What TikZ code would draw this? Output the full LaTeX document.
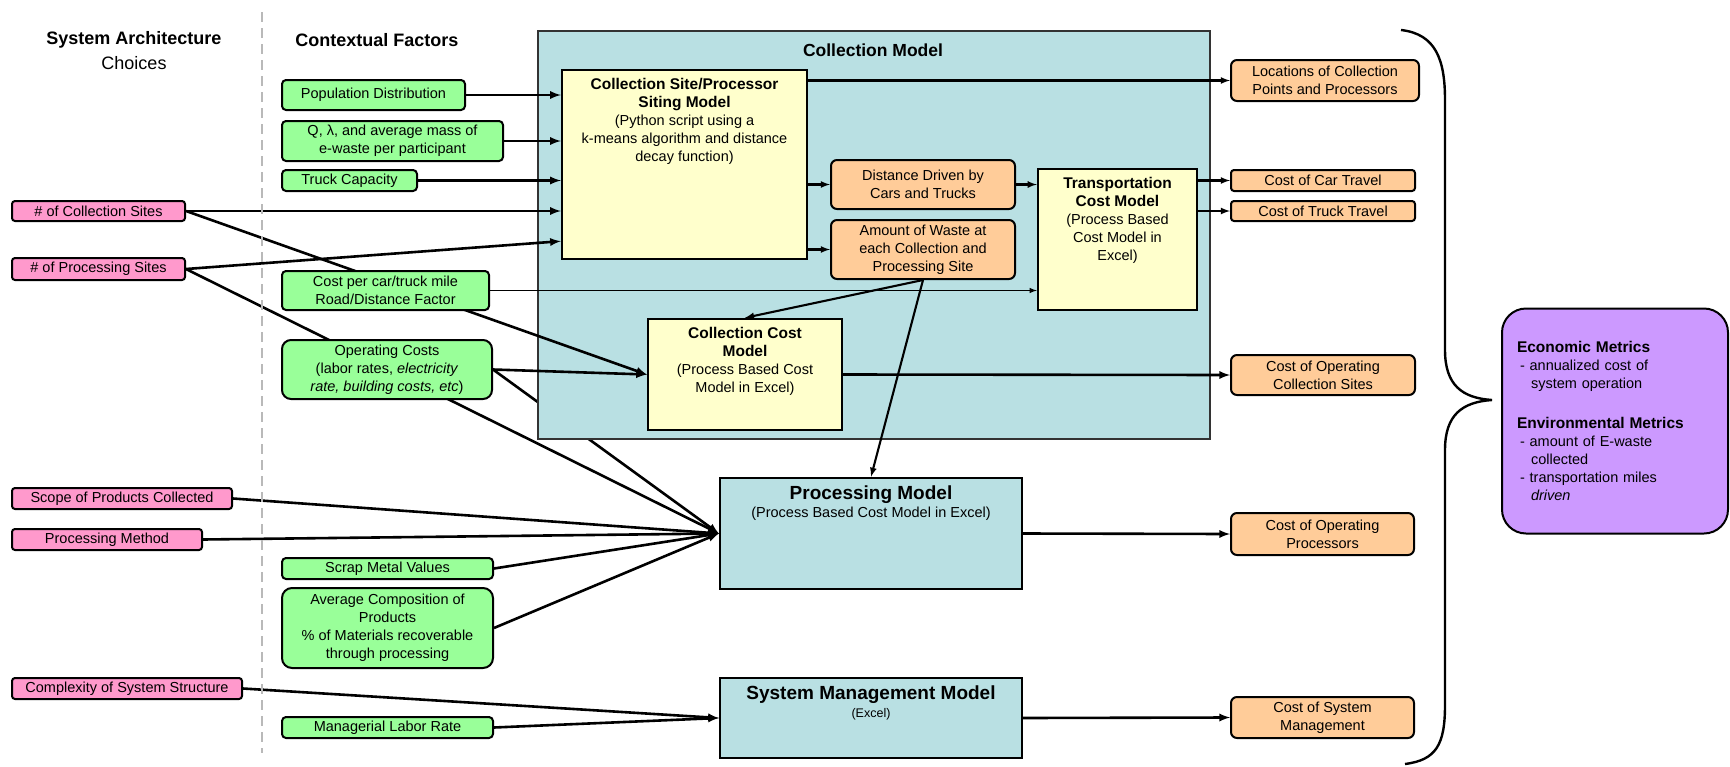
\documentclass[tikz,border=0pt]{standalone}
\usepackage{fontspec}
\setmainfont{Liberation Sans}
\usetikzlibrary{arrows}
\pgfdeclarelayer{hidden}
\pgfdeclarelayer{boxbg}
\pgfdeclarelayer{lines}
\pgfsetlayers{hidden,boxbg,lines,main}
\definecolor{pinkc}{HTML}{FF99CC}
\definecolor{greenc}{HTML}{99FF99}
\definecolor{orangec}{HTML}{FFCC99}
\definecolor{yellowc}{HTML}{FFFFCC}
\definecolor{tealc}{HTML}{B9E0E3}
\definecolor{purplec}{HTML}{CC99FF}
\newcommand{\hdr}[1]{{\fontsize{15.5}{18.5}\selectfont\bfseries #1}}
\newcommand{\bigt}[1]{{\fontsize{19}{22}\selectfont\bfseries #1}}

\begin{document}
\begin{tikzpicture}[x=1pt,y=-1pt,>=latex]
\tikzstyle{txt}=[font=\fontsize{14.5}{18}\selectfont, align=center]
\tikzstyle{basebox}=[txt, rectangle, draw=black, line width=2pt, inner sep=0pt]
\tikzstyle{pinkb}=[basebox, fill=pinkc, rounded corners=3pt]
\tikzstyle{greenb}=[basebox, fill=greenc, rounded corners=4pt]
\tikzstyle{orangeb}=[basebox, fill=orangec, rounded corners=6pt]
\tikzstyle{yelb}=[basebox, fill=yellowc, line width=2.4pt]
\tikzstyle{modb}=[basebox, fill=tealc, line width=2.4pt]
\tikzstyle{ttl}=[txt, anchor=north, inner sep=0pt, yshift=-9pt]
\tikzstyle{head}=[font=\fontsize{18}{22}\selectfont\bfseries]
\tikzstyle{arr}=[->, line width=2.6pt]
\tikzstyle{midarr}=[->, line width=2.1pt]
\tikzstyle{thinarr}=[->, line width=1.5pt]
\useasboundingbox (0,0) rectangle (1730,766);

% column headings
\node (hdarch) [head] at (134,40) {System Architecture};
\node (hdchoice) [head, font=\fontsize{18}{22}\selectfont] at (134,63) {Choices};
\node (hdctx) [head] at (377,40) {Contextual Factors};
\draw[gray!55, line width=2pt, dash pattern=on 10pt off 6pt] (262,12) -- (262,753);

% collection model
\begin{pgfonlayer}{boxbg}
\node (colmod) [modb, draw=black!80, line width=2.2pt, minimum width=672pt, minimum height=408pt] at (874,235) {};
\end{pgfonlayer}
\node (colmodt) [txt, font=\fontsize{17.5}{20}\selectfont\bfseries] at (873,50) {Collection Model};

% architecture choices
\node (ncoll) [pinkb, minimum width=173pt, minimum height=20pt] at (98.5,211) {\# of Collection Sites};
\node (nproc) [pinkb, minimum width=173pt, minimum height=22pt] at (98.5,269) {\# of Processing Sites};
\node (scope) [pinkb, minimum width=220pt, minimum height=21pt] at (122,498.5) {Scope of Products Collected};
\node (pmeth) [pinkb, minimum width=190pt, minimum height=21pt] at (107,539.5) {Processing Method};
\node (cplx) [pinkb, minimum width=230pt, minimum height=21pt] at (127,688.5) {Complexity of System Structure};

% contextual factors
\node (popdist) [greenb, minimum width=183pt, minimum height=30pt] at (373.5,95) {Population Distribution};
\node (qlam) [greenb, minimum width=221pt, minimum height=40pt] at (392.5,141) {Q, λ, and average mass of\\e-waste per participant};
\node (truck) [greenb, minimum width=135pt, minimum height=21pt] at (349.5,180.5) {Truck Capacity};
\node (costmile) [greenb, minimum width=207pt, minimum height=39pt] at (385.5,290.5) {Cost per car/truck mile\\Road/Distance Factor};
\node (opcost) [greenb, rounded corners=9pt, minimum width=210pt, minimum height=59pt] at (387,369.5) {Operating Costs\\(labor rates, \textit{electricity}\\\textit{rate, building costs, etc})};
\node (scrap) [greenb, minimum width=211pt, minimum height=21pt] at (387.5,568.5) {Scrap Metal Values};
\node (avgcomp) [greenb, rounded corners=10pt, minimum width=211pt, minimum height=80pt] at (387.5,628) {Average Composition of\\Products\\\% of Materials recoverable\\through processing};
\node (mlabor) [greenb, minimum width=211pt, minimum height=21pt] at (387.5,727.5) {Managerial Labor Rate};

% models
\node (siting) [yelb, minimum width=245pt, minimum height=189pt] at (684.5,164.5) {};
\node (sitingt) [ttl] at (siting.north) {\hdr{Collection Site/Processor}\\\hdr{Siting Model}\\(Python script using a\\k-means algorithm and distance\\decay function)};
\node (transp) [yelb, minimum width=159pt, minimum height=141pt] at (1117.5,239.5) {};
\node (transpt) [ttl] at (transp.north) {\hdr{Transportation}\\\hdr{Cost Model}\\(Process Based\\Cost Model in\\Excel)};
\node (colcost) [yelb, minimum width=194pt, minimum height=111pt] at (745,374.5) {};
\node (colcostt) [ttl] at (colcost.north) {\hdr{Collection Cost}\\\hdr{Model}\\(Process Based Cost\\Model in Excel)};
\node (procmod) [modb, minimum width=302pt, minimum height=111pt] at (871,533.5) {};
\node (procmodt) [ttl] at (procmod.north) {\bigt{Processing Model}\\(Process Based Cost Model in Excel)};
\node (sysmod) [modb, minimum width=302pt, minimum height=80pt] at (871,718) {};
\node (sysmodt) [ttl] at (sysmod.north) {\bigt{System Management Model}\\{\fontsize{12.5}{15}\selectfont (Excel)}};

% intermediate and final outputs
\node (distdrv) [orangeb, minimum width=184pt, minimum height=49pt] at (923,184.5) {Distance Driven by\\Cars and Trucks};
\node (amtwaste) [orangeb, minimum width=184pt, minimum height=59pt] at (923,249.5) {Amount of Waste at\\each Collection and\\Processing Site};
\node (locs) [orangeb, minimum width=188pt, minimum height=41pt] at (1325,80.5) {Locations of Collection\\Points and Processors};
\node (cartr) [orangeb, rounded corners=3pt, minimum width=184pt, minimum height=21pt] at (1323,180.5) {Cost of Car Travel};
\node (trucktr) [orangeb, rounded corners=3pt, minimum width=184pt, minimum height=20pt] at (1323,211) {Cost of Truck Travel};
\node (opcoll) [orangeb, minimum width=184pt, minimum height=40pt] at (1323,375) {Cost of Operating\\Collection Sites};
\node (opproc) [orangeb, minimum width=183pt, minimum height=42pt] at (1322.5,534) {Cost of Operating\\Processors};
\node (sysmgmt) [orangeb, minimum width=183pt, minimum height=41pt] at (1322.5,717.5) {Cost of System\\Management};

% metrics
\node (metrics) [basebox, fill=purplec, rounded corners=24pt, minimum width=226pt, minimum height=225pt, text width=196pt, align=left] at (1615,421) {\hdr{Economic Metrics}\\
\hspace*{3pt}- annualized cost of\\
\hspace*{14pt}system operation\\[22pt]
\hdr{Environmental Metrics}\\
\hspace*{3pt}- amount of E-waste\\
\hspace*{14pt}collected\\
\hspace*{3pt}- transportation miles\\
\hspace*{14pt}\textit{driven}};

% brace
\draw[line width=2.4pt] (1401,30) .. controls (1436,34) and (1445,60) .. (1445,100) -- (1445,350)
  .. controls (1445,385) and (1462,398) .. (1492,400)
  .. controls (1462,402) and (1445,415) .. (1445,450) -- (1445,705)
  .. controls (1445,745) and (1436,760) .. (1405,764);

% connectors
\begin{pgfonlayer}{hidden}
\draw[arr] (opcost.east) -- (procmod.west);
\end{pgfonlayer}
\begin{pgfonlayer}{lines}
\draw[arr] (popdist.east) -- (popdist.east -| siting.west);
\draw[arr] (qlam.east) -- (qlam.east -| siting.west);
\draw[arr] (truck.east) -- (truck.east -| siting.west);
\draw[arr] (ncoll.east) -- (ncoll.east -| siting.west);
\draw[arr] (nproc.east) -- ([yshift=19pt]siting.south west);
\draw[arr] (ncoll.east) -- (colcost.west);
\draw[arr] (opcost.east) -- (colcost.west);
\draw[thinarr] (costmile.east) -- (costmile.east -| transp.west);
\draw[arr] (nproc.east) -- (procmod.west);
\draw[arr] (scope.east) -- (procmod.west);
\draw[arr] (pmeth.east) -- (procmod.west);
\draw[arr] (scrap.east) -- (procmod.west);
\draw[arr] (avgcomp.east) -- (procmod.west);
\draw[arr] (cplx.east) -- (sysmod.west);
\draw[arr] (mlabor.east) -- (sysmod.west);
\draw[midarr] (siting.east |- locs.west) -- (locs.west);
\draw[midarr] (siting.east |- distdrv.west) -- (distdrv.west);
\draw[midarr] (siting.east |- amtwaste.west) -- (amtwaste.west);
\draw[midarr] (distdrv.east) -- (distdrv.east -| transp.west);
\draw[midarr] (amtwaste.south) -- (colcost.north);
\draw[midarr] (amtwaste.south) -- (procmod.north);
\draw[midarr] (transp.east |- cartr.west) -- (cartr.west);
\draw[midarr] (transp.east |- trucktr.west) -- (trucktr.west);
\draw[arr] (colcost.east) -- (opcoll.west);
\draw[arr] (procmod.east) -- (opproc.west);
\draw[arr] (sysmod.east) -- (sysmgmt.west);
\end{pgfonlayer}
\end{tikzpicture}
\end{document}
